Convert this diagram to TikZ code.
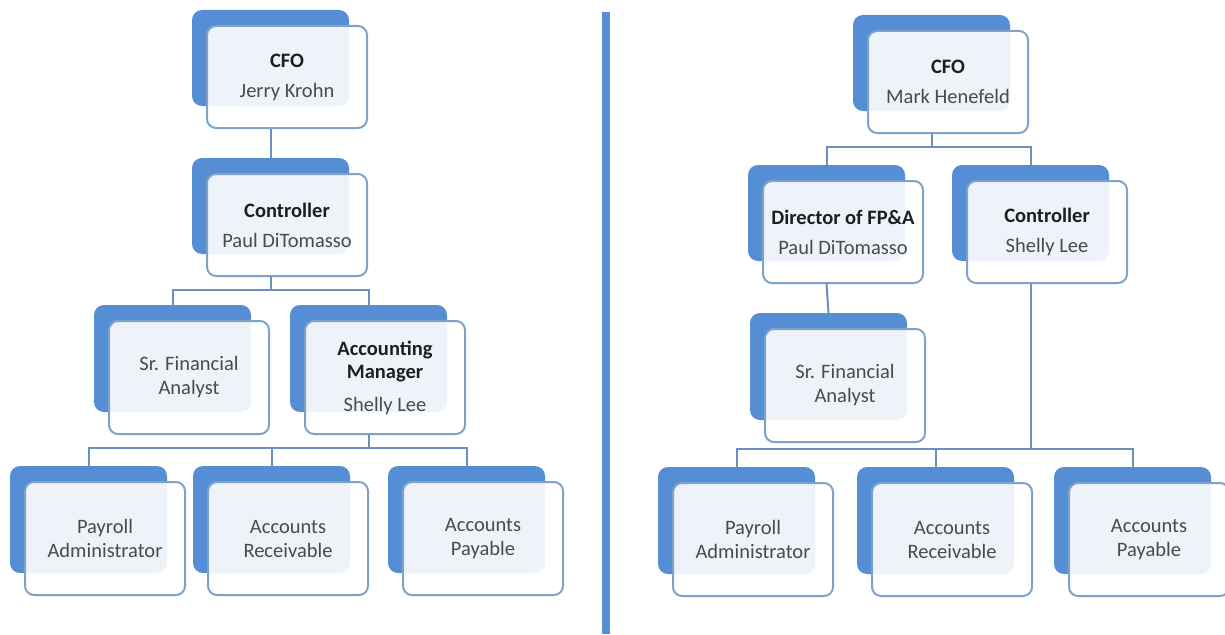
\documentclass[tikz,border=0pt]{standalone}
\usepackage{fontspec}
\setmainfont{Carlito}
\usetikzlibrary{positioning,calc}
\definecolor{chartblue}{HTML}{558ED5}
\definecolor{cardline}{HTML}{7FA2C9}
\definecolor{linkblue}{HTML}{6A90BE}
\definecolor{namegray}{HTML}{4A4A4A}
\definecolor{titleblack}{HTML}{1E1E1E}
\newcommand{\jobtitle}[1]{\textcolor{titleblack}{\textbf{#1}}}

\tikzset{
  backbox/.style={fill=chartblue,rounded corners=10pt,minimum width=157pt,minimum height=96pt,inner sep=0pt},
  tallback/.style={backbox,minimum height=107pt},
  card/.style={draw=cardline,line width=2pt,fill=white,fill opacity=.9,text opacity=1,rounded corners=9pt,
    minimum width=160pt,minimum height=102pt,inner sep=0pt,align=center,text=namegray,
    font=\fontsize{20.5}{24}\selectfont},
  tallcard/.style={card,minimum height=113pt},
  link/.style={draw=linkblue,line width=2pt},
  divider/.style={draw=chartblue,line width=8pt}
}

\begin{document}
\begin{tikzpicture}[x=1pt,y=-1pt]
\useasboundingbox (0,0) rectangle (1225,634);

% left chart
\node[backbox] (cfoL-b) at (270.5,58) {};
\node[card] (cfoL) at ([shift={(16.5,19)}]cfoL-b) {\jobtitle{CFO}\\[6pt]Jerry Krohn};
\node[backbox] (ctrlL-b) at (270.5,206) {};
\node[card] (ctrlL) at ([shift={(16.5,19)}]ctrlL-b) {\jobtitle{Controller}\\[6pt]Paul DiTomasso};
\node[tallback] (sfaL-b) at (172.5,358.5) {};
\node[tallcard] (sfaL) at ([shift={(16.5,19)}]sfaL-b) {Sr. Financial\\Analyst};
\node[tallback] (amL-b) at (368.5,358.5) {};
\node[tallcard] (amL) at ([shift={(16.5,19)}]amL-b) {\jobtitle{Accounting}\\[-1pt]\jobtitle{Manager}\\[9pt]Shelly Lee};
\node[tallback] (payL-b) at (88.5,519.5) {};
\node[tallcard] (payL) at ([shift={(16.5,19)}]payL-b) {Payroll\\Administrator};
\node[tallback] (arL-b) at (271.5,519.5) {};
\node[tallcard] (arL) at ([shift={(16.5,19)}]arL-b) {Accounts\\Receivable};
\node[tallback] (apL-b) at (466.5,519.5) {};
\node[tallcard] (apL) at ([shift={(16.5,19)}]apL-b) {Accounts\\Payable};

\coordinate (busL1) at (0,290);
\coordinate (busL2) at (0,448);
\draw[link] (cfoL-b |- cfoL.south) -- (ctrlL-b.north);
\draw[link] (ctrlL-b |- ctrlL.south) -- (ctrlL-b |- busL1);
\draw[link] (sfaL-b.north) |- (busL1 -| amL-b) -- (amL-b.north);
\draw[link] (amL-b |- amL.south) -- (amL-b |- busL2);
\draw[link] (payL-b.north) |- (busL2 -| apL-b) -- (apL-b.north);
\draw[link] (arL-b.north) -- (arL-b |- busL2);

% divider
\draw[divider] (606,12) -- (606,634);

% right chart
\node[backbox] (cfoR-b) at (931.5,63) {};
\node[card] (cfoR) at ([shift={(16.5,19)}]cfoR-b) {\jobtitle{CFO}\\[6pt]Mark Henefeld};
\node[backbox] (dirR-b) at (826.5,213) {};
\node[card] (dirR) at ([shift={(16.5,19)}]dirR-b) {\jobtitle{Director of FP\&A}\\[6pt]Paul DiTomasso};
\node[backbox] (ctrlR-b) at (1030.5,213) {};
\node[card] (ctrlR) at ([shift={(16.5,19)}]ctrlR-b) {\jobtitle{Controller}\\[6pt]Shelly Lee};
\node[tallback] (sfaR-b) at (828.5,366.5) {};
\node[tallcard] (sfaR) at ([shift={(16.5,19)}]sfaR-b) {Sr. Financial\\Analyst};
\node[tallback] (payR-b) at (736.5,520.5) {};
\node[tallcard] (payR) at ([shift={(16.5,19)}]payR-b) {Payroll\\Administrator};
\node[tallback] (arR-b) at (935.5,520.5) {};
\node[tallcard] (arR) at ([shift={(16.5,19)}]arR-b) {Accounts\\Receivable};
\node[tallback] (apR-b) at (1132.5,520.5) {};
\node[tallcard] (apR) at ([shift={(16.5,19)}]apR-b) {Accounts\\Payable};

\coordinate (busR1) at (0,147);
\coordinate (busR2) at (0,449);
\draw[link] (cfoR-b |- cfoR.south) -- (cfoR-b |- busR1);
\draw[link] (dirR-b.north) |- (busR1 -| ctrlR-b) -- (ctrlR-b.north);
\draw[link] (dirR-b |- dirR.south) -- (sfaR-b.north);
\draw[link] (ctrlR-b |- ctrlR.south) -- (ctrlR-b |- busR2);
\draw[link] (payR-b.north) |- (busR2 -| apR-b) -- (apR-b.north);
\draw[link] (arR-b.north) -- (arR-b |- busR2);
\end{tikzpicture}
\end{document}
